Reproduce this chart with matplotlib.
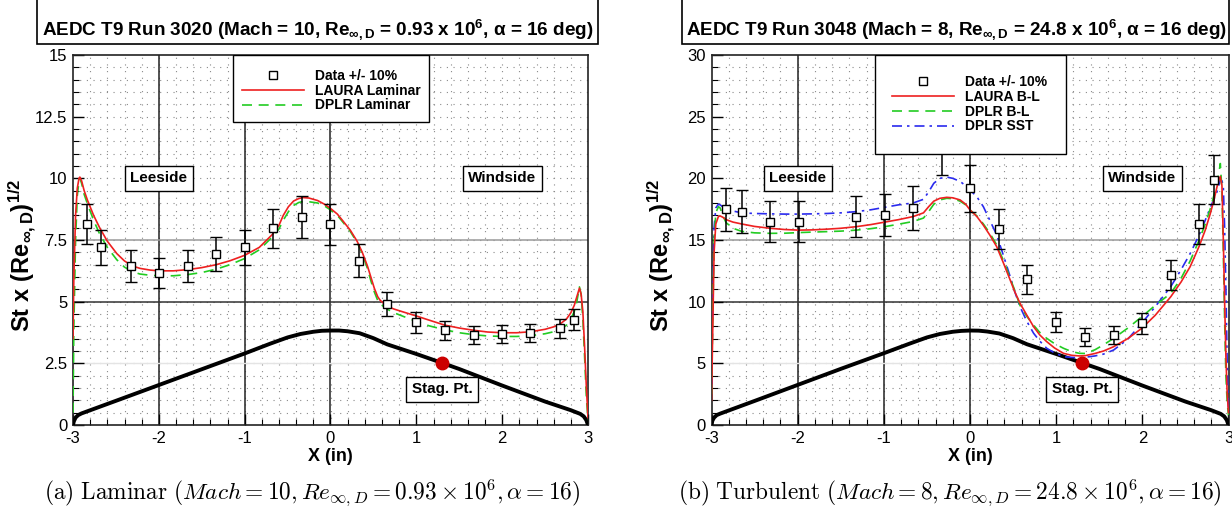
import numpy as np
import matplotlib
matplotlib.use('Agg')
import matplotlib.pyplot as plt
from matplotlib.patches import Rectangle
from matplotlib.lines import Line2D

plt.rcParams['font.family'] = ['Liberation Sans', 'DejaVu Sans']
plt.rcParams['mathtext.fontset'] = 'custom'
plt.rcParams['mathtext.rm'] = 'Liberation Sans:bold'
plt.rcParams['mathtext.it'] = 'Liberation Sans:bold'
plt.rcParams['mathtext.bf'] = 'Liberation Sans:bold'

###################### measured heating, +/- 10 %
LAM_X_DATA = [-2.84, -2.67, -2.33, -2.0, -1.66, -1.33, -1.0, -0.67, -0.33, 0.0,
              0.33, 0.66, 1.0, 1.33, 1.67, 2.0, 2.33, 2.67, 2.84]
LAM_Y_DATA = [8.15, 7.2, 6.45, 6.17, 6.44, 6.92, 7.2, 7.97, 8.44, 8.13,
              6.66, 4.9, 4.16, 3.85, 3.65, 3.69, 3.72, 3.92, 4.26]

TURB_X_DATA = [-2.83, -2.65, -2.32, -1.99, -1.32, -0.99, -0.66, -0.33, 0.0,
               0.335, 0.667, 1.0, 1.33, 1.667, 1.994, 2.33, 2.66, 2.83]
TURB_Y_DATA = [17.5, 17.3, 16.5, 16.5, 16.9, 17.0, 17.6, 22.5, 19.2,
               15.9, 11.8, 8.35, 7.13, 7.3, 8.24, 12.16, 16.3, 19.87]

###################### laminar computations
LAM_X = [-3.0, -2.99, -2.97, -2.95, -2.93, -2.92, -2.9, -2.87, -2.83, -2.76,
         -2.69, -2.6, -2.49, -2.4, -2.31, -2.22, -2.1, -2.0, -1.83, -1.66,
         -1.5, -1.33, -1.17, -1.0, -0.83, -0.67, -0.6, -0.55, -0.49, -0.43,
         -0.37, -0.32, -0.25, -0.15, -0.07, 0.0, 0.08, 0.15, 0.23, 0.31,
         0.37, 0.43, 0.47, 0.51, 0.55, 0.58, 0.63, 0.67, 0.74, 0.85,
         1.0, 1.15, 1.33, 1.5, 1.67, 1.83, 2.0, 2.17, 2.33, 2.5,
         2.6, 2.67, 2.75, 2.8, 2.84, 2.87, 2.9, 2.92, 2.94, 2.96,
         2.98, 3.0]
LAURA_LAM = [3.5, 6.0, 8.5, 9.6, 10.0, 10.05, 9.9, 9.5, 9.1, 8.5,
             8.0, 7.45, 6.95, 6.65, 6.45, 6.35, 6.28, 6.25, 6.25, 6.3,
             6.38, 6.5, 6.66, 6.88, 7.2, 7.75, 8.1, 8.5, 8.85, 9.08,
             9.18, 9.22, 9.2, 9.1, 8.95, 8.78, 8.55, 8.25, 7.9, 7.45,
             7.0, 6.45, 6.0, 5.55, 5.2, 5.05, 4.9, 4.8, 4.7, 4.58,
             4.42, 4.25, 4.05, 3.93, 3.84, 3.77, 3.74, 3.74, 3.78, 3.88,
             3.98, 4.08, 4.3, 4.55, 4.85, 5.2, 5.55, 5.3, 4.6, 3.2,
             1.6, 0.3]
DPLR_LAM = [0.5, 4.0, 7.5, 9.3, 9.9, 10.0, 9.8, 9.35, 8.95, 8.3,
            7.75, 7.2, 6.7, 6.4, 6.22, 6.12, 6.07, 6.05, 6.05, 6.1,
            6.18, 6.32, 6.5, 6.75, 7.1, 7.65, 7.95, 8.3, 8.65, 8.9,
            9.02, 9.06, 9.05, 9.0, 8.88, 8.72, 8.5, 8.2, 7.85, 7.4,
            6.95, 6.35, 5.85, 5.4, 5.05, 4.9, 4.78, 4.68, 4.55, 4.4,
            4.2, 4.02, 3.86, 3.74, 3.66, 3.61, 3.59, 3.59, 3.62, 3.7,
            3.78, 3.85, 4.05, 4.3, 4.6, 5.0, 5.6, 5.3, 4.3, 2.8,
            1.2, 0.2]

###################### turbulent computations
TURB_X = [-3.0, -2.985, -2.97, -2.95, -2.92, -2.9, -2.87, -2.83, -2.75, -2.65,
          -2.5, -2.32, -2.15, -1.99, -1.83, -1.66, -1.5, -1.32, -1.15, -0.99,
          -0.83, -0.66, -0.54, -0.48, -0.42, -0.35, -0.27, -0.2, -0.115, -0.05,
          0.0, 0.08, 0.155, 0.23, 0.31, 0.39, 0.466, 0.52, 0.58, 0.66,
          0.738, 0.81, 0.89, 0.98, 1.085, 1.18, 1.27, 1.337, 1.45, 1.55,
          1.667, 1.83, 1.994, 2.15, 2.33, 2.45, 2.555, 2.66, 2.73, 2.787,
          2.83, 2.866, 2.89, 2.905, 2.924, 2.94, 2.955, 2.97, 2.985, 3.0]
LAURA_BL = [2.0, 8.0, 14.0, 16.3, 16.9, 16.95, 16.85, 16.65, 16.45, 16.3,
            16.1, 15.95, 15.85, 15.8, 15.82, 15.88, 15.95, 16.08, 16.25, 16.45,
            16.65, 16.9, 17.2, 17.7, 18.15, 18.38, 18.46, 18.42, 18.25, 17.9,
            17.44, 16.9, 16.2, 15.4, 14.46, 13.1, 11.76, 10.8, 9.87, 8.9,
            7.97, 7.3, 6.76, 6.25, 5.81, 5.65, 5.6, 5.62, 5.8, 6.0,
            6.35, 7.0, 7.84, 8.9, 10.4, 11.6, 12.84, 14.5, 15.8, 17.1,
            18.2, 19.3, 19.9, 20.15, 19.4, 15.0, 10.0, 5.5, 2.5, 1.0]
DPLR_BL = [2.5, 9.0, 15.0, 17.2, 17.7, 17.6, 17.0, 16.4, 15.95, 15.7,
           15.58, 15.54, 15.55, 15.6, 15.64, 15.68, 15.72, 15.8, 15.92, 16.08,
           16.28, 16.5, 16.78, 17.3, 17.9, 18.25, 18.38, 18.35, 18.15, 17.85,
           17.44, 16.95, 16.3, 15.55, 14.6, 13.3, 11.9, 10.9, 9.7, 8.8,
           8.1, 7.5, 7.03, 6.6, 6.22, 5.95, 5.81, 5.8, 6.1, 6.5,
           7.03, 7.85, 8.78, 9.7, 10.68, 11.9, 13.3, 15.0, 16.3, 17.5,
           18.6, 19.6, 20.5, 21.2, 19.0, 14.0, 8.5, 4.0, 1.8, 0.8]
DPLR_SST = [3.0, 10.0, 16.0, 17.6, 17.9, 17.85, 17.7, 17.57, 17.35, 17.2,
            17.15, 17.12, 17.1, 17.1, 17.12, 17.15, 17.2, 17.3, 17.45, 17.65,
            17.85, 18.0, 18.3, 18.9, 19.6, 20.0, 20.1, 20.0, 19.75, 19.4,
            19.06, 18.5, 17.7, 16.6, 15.41, 13.7, 12.03, 10.8, 9.6, 8.4,
            7.44, 6.8, 6.22, 5.85, 5.54, 5.48, 5.45, 5.49, 5.6, 5.75,
            6.08, 6.95, 8.25, 9.6, 11.22, 12.6, 13.9, 15.41, 16.6, 17.6,
            18.3, 18.9, 19.5, 19.87, 19.8, 19.3, 16.0, 11.0, 5.0, 1.0]

###################### body cross-section (drawn in plot units)
BODY_X = [-3.0, -2.99, -2.97, -2.94, -2.9, -2.5, -2.0, -1.5, -1.0, -0.7,
          -0.5, -0.35, -0.2, -0.1, 0.0, 0.1, 0.2, 0.34, 0.5, 0.66,
          1.0, 1.33, 1.5, 2.0, 2.5, 2.68, 2.8, 2.91, 2.95, 2.98, 3.0]
BODY_LAM = [0.0, 0.15, 0.3, 0.4, 0.47, 0.98, 1.62, 2.26, 2.9, 3.3,
            3.55, 3.69, 3.78, 3.82, 3.83, 3.83, 3.8, 3.72, 3.52, 3.27,
            2.88, 2.48, 2.27, 1.6, 0.95, 0.74, 0.6, 0.45, 0.35, 0.2, 0.0]
BODY_TURB = [0.0, 0.35, 0.6, 0.8, 0.92, 1.95, 3.25, 4.55, 5.82, 6.6,
             7.1, 7.38, 7.56, 7.63, 7.66, 7.65, 7.58, 7.42, 7.04, 6.55,
             5.76, 4.96, 4.55, 3.2, 1.9, 1.48, 1.2, 0.9, 0.7, 0.4, 0.0]
STAG_X = 1.3
STAG_LAM = 2.5
STAG_TURB = 5.0

RED = '#ee2020'
GREEN = '#22cc22'
BLUE = '#2a2aee'
DASH = (0, (6, 4))
DASHDOT = (0, (6, 3, 1.5, 3))

TITLE_LAM = r'AEDC T9 Run 3020 (Mach = 10, Re$_{\infty,D}$ = 0.93 x 10$^6$, $\alpha$ = 16 deg)'
TITLE_TURB = r'AEDC T9 Run 3048 (Mach = 8, Re$_{\infty,D}$ = 24.8 x 10$^6$, $\alpha$ = 16 deg)'
CAPTION_LAM = r'$\mathrm{(a)\ Laminar\ (}Mach = 10, Re_{\infty,D} = 0.93 \times 10^6, \alpha = 16\mathrm{)}$'
CAPTION_TURB = r'$\mathrm{(b)\ Turbulent\ (}Mach = 8, Re_{\infty,D} = 24.8 \times 10^6, \alpha = 16\mathrm{)}$'
YLABEL = r'$\mathrm{St\ x\ (Re}_{\infty,D}\mathrm{)}^{1/2}$'

W, H = 1232.0, 508.0
fig = plt.figure(figsize=(W / 100, H / 100), dpi=100)
AX_LAM = fig.add_axes([73 / W, 1 - 425 / H, 515 / W, 370 / H])
AX_TURB = fig.add_axes([711.5 / W, 1 - 425 / H, 517 / W, 370 / H])


def frame(ax, ymax, ystep, yminor, solid_dark, solid_light, faint):
    '''siatka, osie i opisy wspolne dla obu wykresow'''
    ax.set_xlim(-3, 3)
    ax.set_ylim(0, ymax)
    ax.set_xticks(np.arange(-3, 3.01, 1))
    ax.set_xticks(np.arange(-3, 3.01, 0.2), minor=True)
    ax.set_yticks(np.arange(0, ymax + 0.01, ystep))
    ax.set_yticks(np.arange(0, ymax + 0.01, yminor), minor=True)
    ax.set_yticklabels(['%g' % v for v in np.arange(0, ymax + 0.01, ystep)])
    ax.set_xticklabels(['%d' % v for v in np.arange(-3, 3.01, 1)])
    ax.tick_params(which='major', direction='in', length=8, width=1,
                   labelsize=12, pad=4)
    ax.tick_params(which='minor', direction='in', length=4, width=0.8)
    for sp in ax.spines.values():
        sp.set_linewidth(1.2)
        sp.set_color('#222222')
    # kropkowana siatka
    for xv in np.arange(-2.8, 2.9, 0.2):
        ax.axvline(xv, color='#8a8a8a', lw=0.8, ls=(0, (1, 5)), zorder=0)
    for yv in np.arange(yminor, ymax, yminor):
        ax.axhline(yv, color='#8a8a8a', lw=0.8, ls=(0, (1, 5)), zorder=0)
    for xv in [-2, -1, 0]:
        ax.axvline(xv, color='#222222', lw=1.1, zorder=1)
    ax.axhline(solid_dark, color='#333333', lw=1.1, zorder=1)
    ax.axhline(solid_light, color='#9a9a9a', lw=1.1, zorder=1)
    ax.axhline(faint, color='#e4e4e4', lw=1.0, zorder=1)
    ax.set_xlabel('X (in)', fontsize=13, fontweight='bold')
    ax.xaxis.set_label_coords(0.5, -0.062)
    ax.set_ylabel(YLABEL, fontsize=17)
    ax.yaxis.set_label_coords(-0.067, 0.46)


def boxed(ax, x, y, txt):
    ax.text(x, y, txt, ha='center', va='center', fontsize=11, fontweight='bold',
            zorder=15, bbox=dict(boxstyle='square,pad=0.35', fc='white',
                                 ec='black', lw=1))


def legend(ax, handles, labels, anchor, box):
    ax.add_patch(Rectangle((box[0], box[1]), box[2] - box[0], 1 - box[1],
                           transform=ax.transAxes, fc='white', ec='black',
                           lw=1, zorder=19))
    leg = ax.legend(handles, labels, loc='upper left', bbox_to_anchor=anchor,
                    frameon=False, borderpad=0, borderaxespad=0,
                    handlelength=4.46, handletextpad=0.8, labelspacing=0.05,
                    prop={'weight': 'bold', 'size': 10})
    leg.set_zorder(20)


DATA_HANDLE = Line2D([], [], ls='none', marker='s', mfc='white', mec='black',
                     ms=6, mew=1)

###################### LAMINAR
frame(AX_LAM, 15, 2.5, 0.5, 5, 7.5, 2.5)
AX_LAM.plot(BODY_X, BODY_LAM, color='black', lw=2.8, zorder=3)
AX_LAM.plot(LAM_X, DPLR_LAM, color=GREEN, lw=1.2, ls=DASH, zorder=4)
AX_LAM.plot(LAM_X, LAURA_LAM, color=RED, lw=1.2, zorder=4)
AX_LAM.errorbar(LAM_X_DATA, LAM_Y_DATA, yerr=0.1 * np.array(LAM_Y_DATA),
                fmt='s', mfc='white', mec='black', ms=6, mew=1, ecolor='black',
                elinewidth=1.1, capsize=4.5, capthick=1.1, zorder=6)
AX_LAM.plot(STAG_X, STAG_LAM, 'o', color='#cc0000', ms=9, zorder=7)
boxed(AX_LAM, -2.0, 10.0, 'Leeside')
boxed(AX_LAM, 2.0, 10.0, 'Windside')
boxed(AX_LAM, 1.3, 1.45, 'Stag. Pt.')
legend(AX_LAM,
       [DATA_HANDLE, Line2D([], [], color=RED, lw=1.2),
        Line2D([], [], color=GREEN, lw=1.2, ls=DASH)],
       ['Data +/- 10%', 'LAURA Laminar', 'DPLR Laminar'],
       (0.328, 0.962), (0.3107, 0.819, 0.6913))

###################### TURBULENT
frame(AX_TURB, 30, 5, 1, 10, 15, 5)
AX_TURB.plot(BODY_X, BODY_TURB, color='black', lw=2.8, zorder=3)
AX_TURB.plot(TURB_X, DPLR_SST, color=BLUE, lw=1.2, ls=DASHDOT, zorder=4)
AX_TURB.plot(TURB_X, DPLR_BL, color=GREEN, lw=1.2, ls=DASH, zorder=4)
AX_TURB.plot(TURB_X, LAURA_BL, color=RED, lw=1.2, zorder=4)
AX_TURB.errorbar(TURB_X_DATA, TURB_Y_DATA, yerr=0.1 * np.array(TURB_Y_DATA),
                 fmt='s', mfc='white', mec='black', ms=6, mew=1, ecolor='black',
                 elinewidth=1.1, capsize=4.5, capthick=1.1, zorder=6)
AX_TURB.plot(STAG_X, STAG_TURB, 'o', color='#cc0000', ms=9, zorder=7)
boxed(AX_TURB, -2.0, 20.0, 'Leeside')
boxed(AX_TURB, 2.0, 20.0, 'Windside')
boxed(AX_TURB, 1.3, 2.9, 'Stag. Pt.')
legend(AX_TURB,
       [DATA_HANDLE, Line2D([], [], color=RED, lw=1.2),
        Line2D([], [], color=GREEN, lw=1.2, ls=DASH),
        Line2D([], [], color=BLUE, lw=1.2, ls=DASHDOT)],
       ['Data +/- 10%', 'LAURA B-L', 'DPLR B-L', 'DPLR SST'],
       (0.349, 0.945), (0.3162, 0.7324, 0.6857))

###################### tytuly w ramkach i podpisy
for x0, x1, xc, txt in [(37, 598, 318, TITLE_LAM), (682, 1229, 956, TITLE_TURB)]:
    fig.add_artist(Rectangle((x0 / W, 1 - 44 / H), (x1 - x0) / W, 0.2,
                             transform=fig.transFigure, fc='white', ec='black',
                             lw=1.2))
    fig.text(xc / W, 1 - 29 / H, txt, ha='center', va='center', fontsize=13.6,
             fontweight='bold')

fig.text(312 / W, 1 - 493 / H, CAPTION_LAM, ha='center', va='center',
         fontsize=16.8, math_fontfamily='cm')
fig.text(950 / W, 1 - 493 / H, CAPTION_TURB, ha='center', va='center',
         fontsize=16.8, math_fontfamily='cm')

fig.savefig('out.png', dpi=100)
